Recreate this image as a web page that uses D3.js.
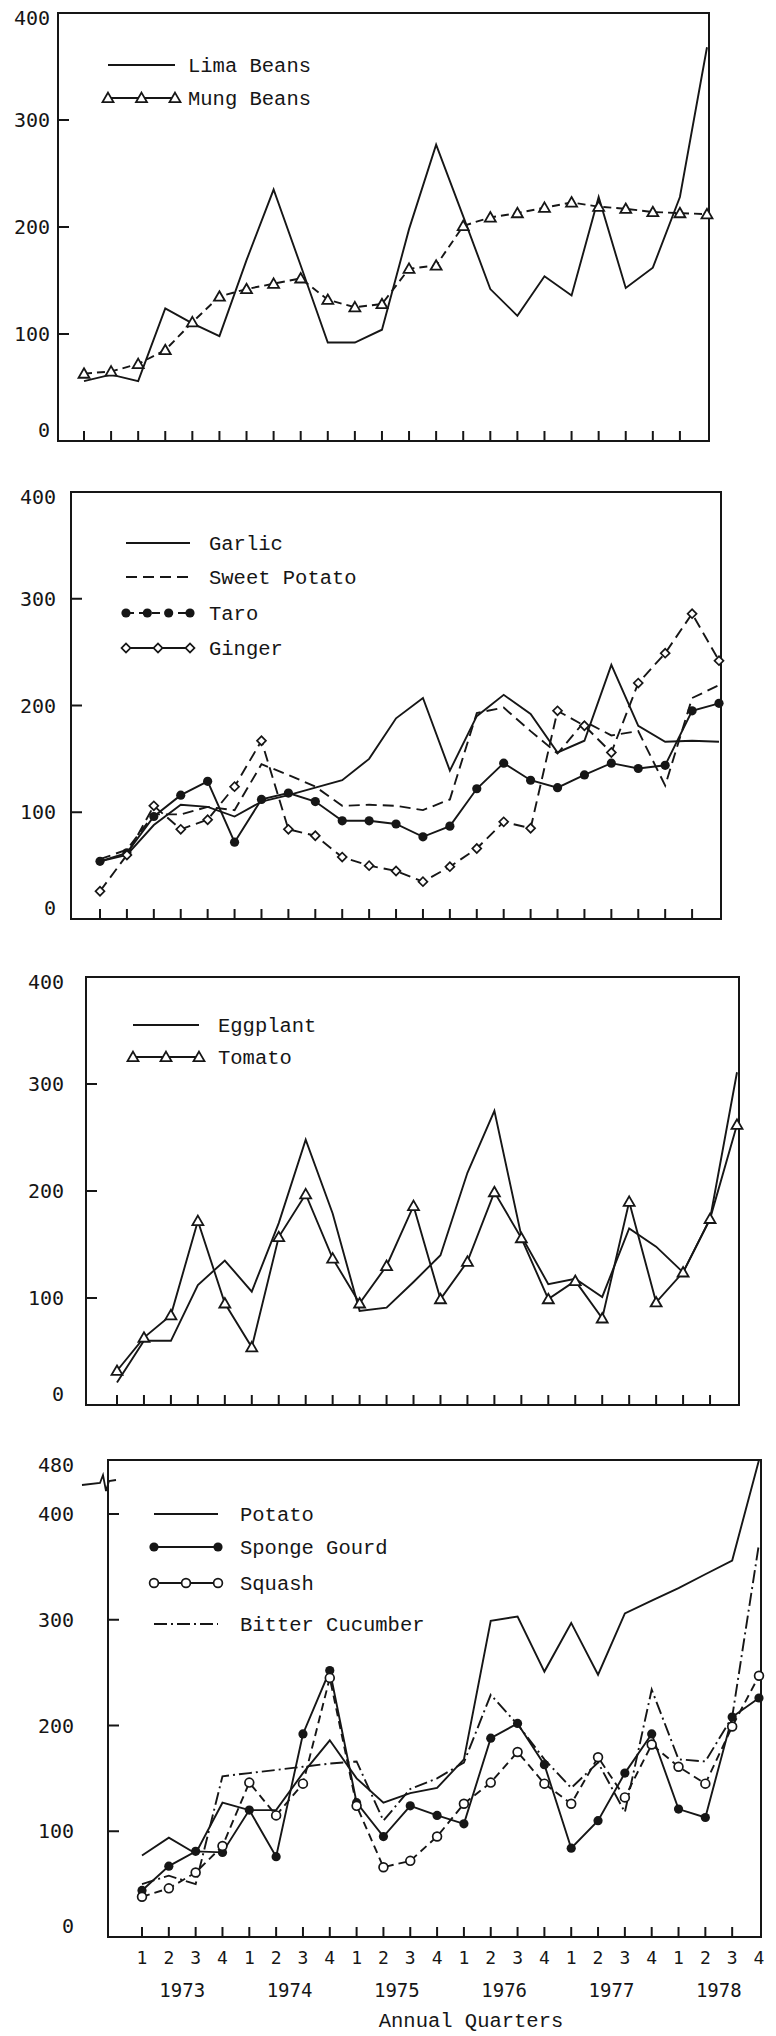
<!DOCTYPE html>
<html>
<head>
<meta charset="utf-8">
<script src="https://cdn.jsdelivr.net/npm/d3@7"></script>
<style>
  body { margin: 0; background: #fff; }
  svg { display: block; }
</style>
</head>
<body>
<svg id="chart" width="776" height="2036"></svg>
<script>
// ---- categories -------------------------------------------------------
const years = ["1973", "1974", "1975", "1976", "1977", "1978"];
const quarterNumbers = ["1", "2", "3", "4"];
const quarters = years.flatMap(yr => quarterNumbers.map(q => yr + "-Q" + q));

// ---- series values (one value per quarter, 1973 Q1 .. 1978 Q4) --------
const limaBeans   = [56, 62, 56, 124, 110, 98, 169, 235, 164, 92, 92, 104, 198, 277, 210, 142, 117, 154, 136, 228, 143, 162, 228, 368];
const mungBeans   = [63, 65, 72, 85, 111, 135, 142, 147, 152, 132, 125, 128, 161, 164, 201, 209, 213, 218, 223, 219, 217, 214, 213, 212];

const garlic      = [54, 60, 88, 107, 105, 96, 110, 116, 123, 130, 150, 188, 207, 139, 190, 210, 192, 156, 167, 238, 181, 166, 167, 166];
const sweetPotato = [56, 65, 98, 98, 105, 102, 145, 135, 124, 106, 107, 106, 102, 112, 193, 198, 176, 155, 185, 172, 176, 125, 207, 219];
const taro        = [54, 62, 96, 116, 129, 72, 112, 118, 110, 92, 92, 89, 77, 87, 122, 146, 130, 123, 135, 146, 141, 144, 195, 202];
const ginger      = [26, 60, 106, 84, 93, 124, 167, 84, 78, 58, 50, 45, 35, 49, 66, 91, 85, 195, 181, 156, 221, 249, 286, 242];

const eggplant    = [21, 60, 60, 112, 135, 106, 170, 248, 179, 88, 91, 115, 140, 217, 275, 158, 113, 118, 101, 165, 148, 124, 174, 311];
const tomato      = [32, 63, 84, 172, 95, 54, 157, 197, 137, 95, 130, 186, 99, 134, 199, 156, 99, 116, 81, 190, 96, 124, 174, 262];

const potato         = [77, 94, 79, 127, 120, 120, 155, 186, 150, 127, 136, 141, 168, 299, 303, 251, 297, 248, 306, 318, 330, 343, 356, 480];
const spongeGourd    = [44, 67, 81, 80, 120, 76, 192, 252, 127, 95, 124, 115, 107, 188, 202, 163, 84, 110, 155, 192, 121, 113, 208, 226];
const squash         = [38, 46, 61, 86, 146, 115, 145, 245, 124, 66, 72, 95, 126, 146, 175, 145, 126, 170, 132, 182, 161, 145, 199, 247];
const bitterCucumber = [50, 58, 50, 152, 155, 158, 161, 164, 166, 110, 140, 150, 165, 229, 201, 168, 141, 165, 118, 234, 168, 166, 208, 372];

// ---- axis tick labels --------------------------------------------------
const yLabelsStandard = [0, 100, 200, 300, 400];
const yMarksStandard  = [100, 200, 300];
const yLabelsPotato   = [0, 100, 200, 300, 400, 480];
const yMarksPotato    = [100, 200, 300, 400];
const xAxisTitle = "Annual Quarters";

// ---- drawing ----------------------------------------------------------
const ink = "#161616";
const monoText = "'Liberation Mono', 'Courier New', monospace";
const numText = "'DejaVu Sans Mono', monospace";
const svg = d3.select("#chart");

const dashes = { solid: null, dashed: "8 5", longDash: "11 6", dashDot: "13 4 2 4" };

function drawMarker(g, kind, cx, cy) {
  if (kind === "triangle") {
    g.append("path").attr("d", d3.symbol(d3.symbolTriangle, 52)())
      .attr("transform", `translate(${cx},${cy + 1})`)
      .attr("fill", "#fff").attr("stroke", ink).attr("stroke-width", 1.8);
  } else if (kind === "diamond") {
    g.append("path").attr("d", d3.symbol(d3.symbolSquare, 40)())
      .attr("transform", `translate(${cx},${cy}) rotate(45)`)
      .attr("fill", "#fff").attr("stroke", ink).attr("stroke-width", 1.7);
  } else if (kind === "dot") {
    g.append("circle").attr("cx", cx).attr("cy", cy).attr("r", 4.6).attr("fill", ink);
  } else if (kind === "ring") {
    g.append("circle").attr("cx", cx).attr("cy", cy).attr("r", 4.4)
      .attr("fill", "#fff").attr("stroke", ink).attr("stroke-width", 1.7);
  }
}

function drawPanel(cfg) {
  const g = svg.append("g");
  const x = d3.scalePoint().domain(quarters).range([cfg.x0, cfg.x1]);
  const y = d3.scaleLinear().domain(cfg.yDomain).range(cfg.yRange);
  const yMax = cfg.yDomain[cfg.yDomain.length - 1];

  // frame
  g.append("rect")
    .attr("x", cfg.left).attr("y", cfg.top)
    .attr("width", cfg.right - cfg.left).attr("height", cfg.bottom - cfg.top)
    .attr("fill", "none").attr("stroke", ink).attr("stroke-width", 2);

  // y ticks (pointing inward) and labels
  g.selectAll(".ymark").data(cfg.yMarks).enter().append("line")
    .attr("x1", cfg.left).attr("x2", cfg.left + 11)
    .attr("y1", d => y(d)).attr("y2", d => y(d))
    .attr("stroke", ink).attr("stroke-width", 2);
  g.selectAll(".ylab").data(cfg.yLabels).enter().append("text")
    .attr("x", cfg.labelRight)
    .attr("y", d => y(d) + (d === 0 ? -11 : d === yMax ? 5 : 0))
    .attr("dy", "0.36em")
    .attr("text-anchor", "end")
    .attr("font-family", numText).attr("font-size", 20).attr("fill", ink)
    .text(d => d);

  // x ticks (pointing inward)
  g.selectAll(".xmark").data(quarters.slice(0, quarters.length - 1)).enter().append("line")
    .attr("x1", d => x(d)).attr("x2", d => x(d))
    .attr("y1", cfg.bottom).attr("y2", cfg.bottom - 10)
    .attr("stroke", ink).attr("stroke-width", 2);

  // series lines
  const line = d3.line().x((d, i) => x(quarters[i])).y(d => y(d));
  cfg.series.forEach(s => {
    g.append("path").datum(s.values)
      .attr("d", line)
      .attr("fill", "none").attr("stroke", ink)
      .attr("stroke-width", 1.9).attr("stroke-linejoin", "miter")
      .attr("stroke-dasharray", dashes[s.dash]);
  });
  cfg.series.forEach(s => {
    if (!s.marker) return;
    s.values.forEach((v, i) => drawMarker(g, s.marker, x(quarters[i]), y(v)));
  });

  // legend
  const L = cfg.legend;
  cfg.series.forEach((s, k) => {
    const ly = L.rows[k];
    g.append("line")
      .attr("x1", L.x0).attr("x2", L.x1).attr("y1", ly).attr("y2", ly)
      .attr("stroke", ink).attr("stroke-width", 1.9)
      .attr("stroke-dasharray", dashes[s.legendDash || s.dash]);
    if (s.marker) {
      const n = s.legendMarkers || 3;
      d3.range(n).forEach(j => drawMarker(g, s.marker, L.x0 + (L.x1 - L.x0) * j / (n - 1), ly));
    }
    g.append("text")
      .attr("x", L.textX).attr("y", ly + 7)
      .attr("font-family", monoText).attr("font-size", 20.5).attr("fill", ink)
      .text(s.name);
  });

  return { g, x, y };
}

// Panel 1: beans
drawPanel({
  top: 13, bottom: 441, left: 58, right: 709, x0: 84, x1: 707, labelRight: 50,
  yDomain: [0, 400], yRange: [441, 13],
  yLabels: yLabelsStandard, yMarks: yMarksStandard,
  series: [
    { name: "Lima Beans", values: limaBeans, dash: "solid" },
    { name: "Mung Beans", values: mungBeans, dash: "dashed", marker: "triangle", legendDash: "solid" }
  ],
  legend: { x0: 108, x1: 175, textX: 188, rows: [65, 98] }
});

// Panel 2: roots and tubers
drawPanel({
  top: 492, bottom: 919, left: 71, right: 721, x0: 100, x1: 719, labelRight: 56,
  yDomain: [0, 400], yRange: [919, 492],
  yLabels: yLabelsStandard, yMarks: yMarksStandard,
  series: [
    { name: "Garlic", values: garlic, dash: "solid" },
    { name: "Sweet Potato", values: sweetPotato, dash: "longDash" },
    { name: "Taro", values: taro, dash: "solid", marker: "dot", legendDash: "dashed", legendMarkers: 4 },
    { name: "Ginger", values: ginger, dash: "longDash", marker: "diamond", legendDash: "solid" }
  ],
  legend: { x0: 126, x1: 190, textX: 209, rows: [543, 577, 613, 648] }
});

// Panel 3: eggplant and tomato
drawPanel({
  top: 977, bottom: 1405, left: 86, right: 739, x0: 117, x1: 737, labelRight: 64,
  yDomain: [0, 400], yRange: [1405, 977],
  yLabels: yLabelsStandard, yMarks: yMarksStandard,
  series: [
    { name: "Eggplant", values: eggplant, dash: "solid" },
    { name: "Tomato", values: tomato, dash: "solid", marker: "triangle" }
  ],
  legend: { x0: 133, x1: 199, textX: 218, rows: [1025, 1057] }
});

// Panel 4: potato and gourds, axis broken above 400
const p4 = drawPanel({
  top: 1460, bottom: 1937, left: 108, right: 761, x0: 142, x1: 759, labelRight: 74,
  yDomain: [0, 400, 480], yRange: [1937, 1514, 1460],
  yLabels: yLabelsPotato, yMarks: yMarksPotato,
  series: [
    { name: "Potato", values: potato, dash: "solid" },
    { name: "Sponge Gourd", values: spongeGourd, dash: "solid", marker: "dot", legendMarkers: 2 },
    { name: "Squash", values: squash, dash: "dashed", marker: "ring", legendDash: "solid" },
    { name: "Bitter Cucumber", values: bitterCucumber, dash: "dashDot" }
  ],
  legend: { x0: 154, x1: 218, textX: 240, rows: [1514, 1547, 1583, 1624] }
});

// axis break mark between 400 and 480
p4.g.append("path")
  .attr("d", "M82,1485 L100,1483 L103,1475 L106,1491 L109,1481 L116,1480")
  .attr("fill", "none").attr("stroke", ink).attr("stroke-width", 1.8);

// quarter and year labels under the last panel
p4.g.selectAll(".qlab").data(quarters).enter().append("text")
  .attr("x", d => p4.x(d)).attr("y", 1964)
  .attr("text-anchor", "middle")
  .attr("font-family", numText).attr("font-size", 18).attr("fill", ink)
  .text(d => d.slice(-1));
p4.g.selectAll(".ylab2").data(years).enter().append("text")
  .attr("x", yr => (p4.x(yr + "-Q2") + p4.x(yr + "-Q3")) / 2)
  .attr("y", 1997)
  .attr("text-anchor", "middle")
  .attr("font-family", numText).attr("font-size", 19).attr("fill", ink)
  .text(yr => yr);
p4.g.append("text")
  .attr("x", 471).attr("y", 2027)
  .attr("text-anchor", "middle")
  .attr("font-family", monoText).attr("font-size", 20.5).attr("fill", ink)
  .text(xAxisTitle);
</script>
</body>
</html>
